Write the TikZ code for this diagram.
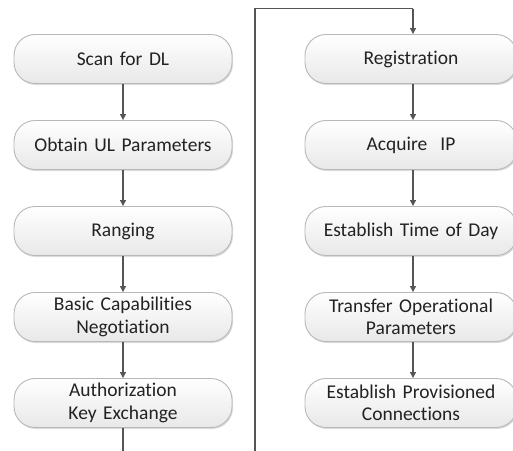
\documentclass[tikz,border=0pt]{standalone}
\usepackage{fontspec}
\setmainfont[RawFeature=-liga]{Carlito}
\usetikzlibrary{arrows.meta,shadows}
\definecolor{boxline}{HTML}{B8B8B8}
\definecolor{boxtop}{HTML}{FFFFFF}
\definecolor{boxbot}{HTML}{E8E8E8}
\definecolor{linkcol}{HTML}{555555}
\definecolor{txt}{HTML}{222222}
\tikzset{
  stepbox/.style={draw=boxline, line width=0.9pt, rounded corners=21pt,
    top color=boxtop, bottom color=boxbot, minimum height=49pt,
    align=center, text=txt, inner sep=2pt,
    font=\fontsize{19.5}{22.5}\selectfont,
    drop shadow={shadow xshift=1pt, shadow yshift=-1.5pt, fill=black, opacity=0.14}},
  leftbox/.style={stepbox, minimum width=218pt, text width=210pt},
  rightbox/.style={stepbox, minimum width=212pt, text width=204pt},
  link/.style={draw=linkcol, line width=1.3pt, -{Triangle[length=6pt,width=6pt]}},
  loopline/.style={draw=linkcol, line width=1.6pt}
}
\begin{document}
\begin{tikzpicture}[x=1pt,y=-1pt]
\useasboundingbox (0,0) rectangle (513,450);
% left column
\node[leftbox] (scan) at (123,59) {Scan for DL};
\node[leftbox] (ul) at (123,145) {Obtain UL Parameters};
\node[leftbox] (rng) at (123,231) {Ranging};
\node[leftbox] (sbc) at (123,317) {Basic Capabilities\\Negotiation};
\node[leftbox] (auth) at (123,403) {Authorization\\Key Exchange};
% right column
\node[rightbox] (reg) at (411,59) {Registration};
\node[rightbox] (ip) at (411,145) {Acquire~~IP};
\node[rightbox] (tod) at (411,231) {Establish Time of Day};
\node[rightbox] (top) at (411,317) {Transfer Operational\\Parameters};
\node[rightbox] (conn) at (411,403) {Establish Provisioned\\Connections};
% corner points of the return path
\coordinate (lowL) at (123,452);
\coordinate (lowR) at (255,452);
\coordinate (upR) at (255,8.5);
\coordinate (upC) at (413,8.5);
% links
\draw[link] (scan) -- (ul);
\draw[link] (ul) -- (rng);
\draw[link] (rng) -- (sbc);
\draw[link] (sbc) -- (auth);
\draw[loopline] (auth.south) -- (lowL);
\draw[loopline] (lowR) -- (upR) -- (upC);
\draw[link] (upC) -- (upC |- reg.north);
\draw[link] ([xshift=2pt]reg.south) -- ([xshift=2pt]ip.north);
\draw[link] ([xshift=2pt]ip.south) -- ([xshift=2pt]tod.north);
\draw[link] ([xshift=2pt]tod.south) -- ([xshift=2pt]top.north);
\draw[link] ([xshift=2pt]top.south) -- ([xshift=2pt]conn.north);
\end{tikzpicture}
\end{document}
